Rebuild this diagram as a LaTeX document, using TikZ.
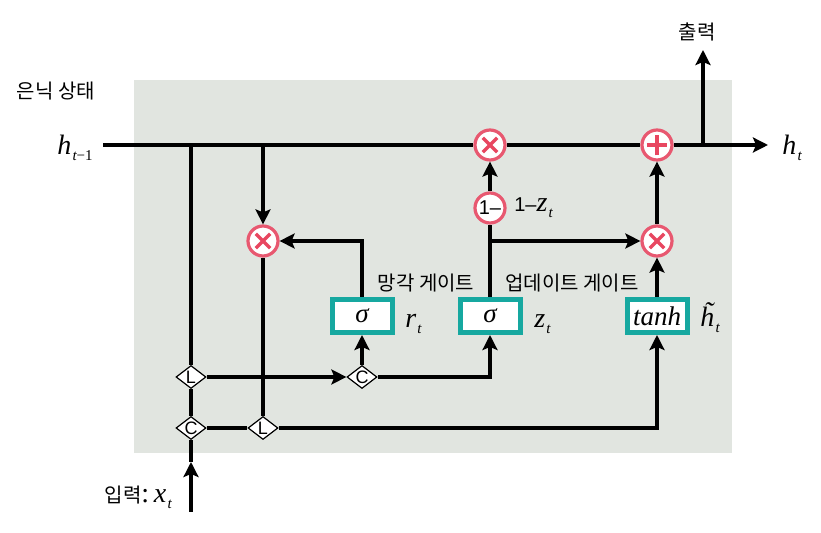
\documentclass[tikz,border=0pt]{standalone}
\usepackage{fontspec}
\usetikzlibrary{arrows.meta,shapes}
\newfontfamily\krfont{Noto Sans CJK KR}
\newfontfamily\lsfont{Liberation Sans}
\newfontfamily\rmit{Liberation Serif}
\definecolor{cellgray}{RGB}{225,229,224}
\definecolor{ringpink}{RGB}{232,88,112}
\definecolor{signred}{RGB}{232,70,96}
\definecolor{boxteal}{RGB}{22,168,160}
\def\krsz{\krfont\fontsize{10}{12}\selectfont}
\def\itf{\rmit\itshape\fontsize{14}{16}\selectfont}
\def\subf{\rmit\itshape\fontsize{7.5}{8}\selectfont}
\def\withsub#1#2{{\itf #1}\kern0.6pt\raisebox{-3pt}{\subf #2}}
\def\tildeh{\ooalign{{\itf h}\cr\hidewidth\kern1.2pt\raisebox{2.8pt}{\itf\char"02DC}\hidewidth\cr}}

\begin{document}
\begin{tikzpicture}[>={Stealth[length=7.5pt,width=7.5pt,inset=1.5pt]}, line width=2.3pt,
	mulnode/.style={circle, draw=ringpink, line width=1.6pt, fill=white, minimum size=15pt, inner sep=0pt},
	mulsign/.style={mulnode, path picture={\draw[signred, line width=1.7pt, shift={(path picture bounding box.center)}] (-3.6pt,-3.6pt) -- (3.6pt,3.6pt) (-3.6pt,3.6pt) -- (3.6pt,-3.6pt);}},
	addsign/.style={mulnode, path picture={\draw[signred, line width=1.7pt, shift={(path picture bounding box.center)}] (-5.2pt,0pt) -- (5.2pt,0pt) (0pt,-5.2pt) -- (0pt,5.2pt);}},
	gatebox/.style={rectangle, draw=boxteal, line width=2.5pt, fill=white, minimum width=30pt, minimum height=16.5pt, inner sep=0pt, font=\rmit\itshape\fontsize{13.5}{15}\selectfont},
	joint/.style={diamond, aspect=1.3, draw, line width=0.6pt, fill=white, inner sep=0pt, minimum width=15pt, minimum height=11.5pt, font=\lsfont\fontsize{9}{9}\selectfont},
	krtext/.style={font=\krsz},
	vartext/.style={inner sep=0pt}]
		\useasboundingbox (0pt, 0pt) rectangle (410.5pt, -266.5pt);
		\fill[cellgray] (67pt, -40pt) rectangle (366pt, -226.5pt);
		% operations and gates
		\draw (245.0pt, -72.5pt)node[mulsign](mulold){};
		\draw (328.5pt, -72.5pt)node[addsign](addnew){};
		\draw (131.5pt, -120.5pt)node[mulsign](mulreset){};
		\draw (328.5pt, -120.5pt)node[mulsign](mulcand){};
		\draw (245.0pt, -104.0pt)node[mulnode, font=\lsfont\fontsize{10}{10}\selectfont](oneminus){1–};
		\draw (181.0pt, -158.0pt)node[gatebox](sigr){σ};
		\draw (245.0pt, -158.0pt)node[gatebox](sigz){σ};
		\draw (328.5pt, -158.0pt)node[gatebox](tanhbox){tanh};
		\draw (95.5pt, -188.5pt)node[joint](l1){L};
		\draw (95.5pt, -214.0pt)node[joint](c1){C};
		\draw (181.0pt, -188.5pt)node[joint](c2){C};
		\draw (131.5pt, -214.0pt)node[joint](l2){L};
		% junctions and free ends
		\draw (51.5pt, -72.5pt)coordinate(hstart);
		\draw (95.5pt, -72.5pt)coordinate(jx);
		\draw (131.5pt, -72.5pt)coordinate(jh);
		\draw (351.5pt, -72.5pt)coordinate(jout);
		\draw (384.0pt, -72.5pt)coordinate(hend);
		\draw (351.5pt, -25.0pt)coordinate(outend);
		\draw (245.0pt, -120.5pt)coordinate(jz);
		\draw (95.5pt, -231.0pt)coordinate(xmid);
		\draw (95.5pt, -256.0pt)coordinate(xstart);
		% labels
		\draw (28.0pt, -45.5pt)node[krtext](hidlabel){은닉 상태};
		\draw (27.5pt, -77.5pt)node[vartext, anchor=base west](hprev){\withsub{h}{t{\upshape −1}}};
		\draw (390.0pt, -77.5pt)node[vartext, anchor=base west](hnext){\withsub{h}{t}};
		\draw (348.5pt, -16.0pt)node[krtext](outlabel){출력};
		\draw (87.0pt, -251.5pt)node[vartext, anchor=base east](inlabel){{\krsz 입력}{\rmit\fontsize{14}{16}\selectfont :\,}\withsub{x}{t}};
		\draw (213.0pt, -141.5pt)node[krtext](rlabel){망각 게이트};
		\draw (286.0pt, -141.5pt)node[krtext](zlabel){업데이트 게이트};
		\draw (201.5pt, -164.0pt)node[vartext, anchor=base west](rt){\withsub{r}{t}};
		\draw (266.0pt, -164.0pt)node[vartext, anchor=base west](zt){\withsub{z}{t}};
		\draw (349.0pt, -163.5pt)node[vartext, anchor=base west](ht){\withsub{\tildeh}{t}};
		\draw (256.0pt, -106.0pt)node[vartext, anchor=base west](oneminusz){{\lsfont\fontsize{10}{10}\selectfont 1–}\withsub{z}{t}};
		% connectors
		\path (hstart) edge (mulold);
		\path (mulold) edge (addnew);
		\path[->] (addnew) edge (hend);
		\path[->] (jout) edge (outend);
		\path[->] (jh) edge (mulreset);
		\path (mulreset) edge (l2);
		\path[->] (xstart) edge (xmid);
		\path (xmid) edge (c1);
		\path (c1) edge (l1);
		\path (l1) edge (jx);
		\path[->] (l1) edge (c2);
		\path[->] (c2) edge (sigr);
		\draw[->] (c2) -| (sigz);
		\path (c1) edge (l2);
		\draw[->] (l2) -| (tanhbox);
		\draw[->] (sigr) |- (mulreset);
		\path (sigz) edge (oneminus);
		\path[->] (oneminus) edge (mulold);
		\path[->] (jz) edge (mulcand);
		\path[->] (tanhbox) edge (mulcand);
		\path[->] (mulcand) edge (addnew);
\end{tikzpicture}
\end{document}
